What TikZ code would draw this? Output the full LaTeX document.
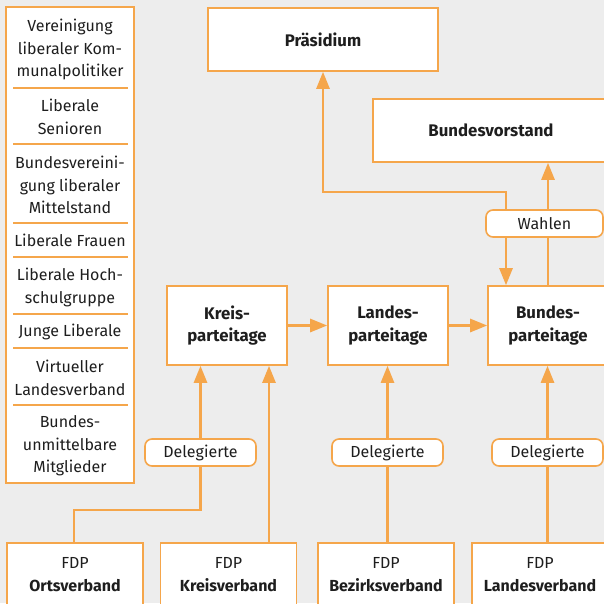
\documentclass[tikz,border=0pt]{standalone}
\usepackage{fontspec}
\setmainfont{Fira Sans}
\usetikzlibrary{arrows.meta,calc,positioning}
\definecolor{fdporange}{RGB}{245,166,75}
\definecolor{fdpgrey}{RGB}{237,237,237}
\definecolor{fdptext}{RGB}{30,30,30}

\begin{document}
\begin{tikzpicture}[x=1pt,y=-1pt,
       box/.style={draw=fdporange,fill=white,line width=1.6pt,text=fdptext,align=center,
                   inner sep=0pt,font=\fontsize{16}{23}\selectfont},
       organ/.style={box,font=\fontsize{16.8}{22.5}\selectfont\bfseries},
       pill/.style={box,rounded corners=7pt,minimum width=111pt,minimum height=27pt},
       item/.style={text=fdptext,align=center,inner sep=0pt,font=\fontsize{16}{22.5}\selectfont},
       divider/.style={draw=fdporange,line width=1.6pt},
       link/.style={draw=fdporange,line width=2.6pt},
       tip/.style={link,-{Triangle[length=17pt,width=13pt]}},
       twotip/.style={link,{Triangle[length=17pt,width=13pt]}-{Triangle[length=17pt,width=13pt]}}]
       \path[fill=fdpgrey,use as bounding box] (0,0) rectangle (604,603);
       \clip (0,0) rectangle (604,603);

       \draw[divider,fill=white] (6,7) rectangle (134,483);
       \node[item] (verein)   at (70,49.5) {Vereinigung\\liberaler Kom-\\munalpolitiker};
       \node[item] (senioren) at (70,117)  {Liberale\\Senioren};
       \node[item] (mittel)   at (70,185)  {Bundesvereini-\\gung liberaler\\Mittelstand};
       \node[item] (frauen)   at (70,240)  {Liberale Frauen};
       \node[item] (hochsch)  at (70,287.5){Liberale Hoch-\\schulgruppe};
       \node[item] (jungl)    at (70,331.5){Junge Liberale};
       \node[item] (virtuell) at (70,378)  {Virtueller\\Landesverband};
       \node[item] (bundesum) at (70,446)  {Bundes-\\unmittelbare\\Mitglieder};
       \draw[divider] (13,88) -- (128,88);
       \draw[divider] (13,144) -- (128,144);
       \draw[divider] (13,223) -- (128,223);
       \draw[divider] (13,257) -- (128,257);
       \draw[divider] (13,314) -- (128,314);
       \draw[divider] (13,348) -- (128,348);
       \draw[divider] (13,405) -- (128,405);

       \node[organ,minimum width=230pt,minimum height=63pt] (praes) at (323,39.5) {Präsidium};
       \node[organ,minimum width=236pt,minimum height=63pt] (bvorst) at (491,130.5) {Bundesvorstand};

       \node[organ,minimum width=120pt,minimum height=79pt] (kreisPT)  at (227,325.5) {Kreis-\\parteitage};
       \node[organ,minimum width=120pt,minimum height=79pt] (landesPT) at (388,325.5) {Landes-\\parteitage};
       \node[organ,minimum width=120pt,minimum height=79pt] (bundesPT) at (548,325.5) {Bundes-\\parteitage};

       \node[box,minimum width=136pt,minimum height=64pt] (ortsV)   at (75,575)    {FDP\\\textbf{Ortsverband}};
       \node[box,minimum width=136pt,minimum height=64pt] (kreisV)  at (228.5,575) {FDP\\\textbf{Kreisverband}};
       \node[box,minimum width=136pt,minimum height=64pt] (bezirkV) at (386,575)   {FDP\\\textbf{Bezirksverband}};
       \node[box,minimum width=136pt,minimum height=64pt] (landesV) at (540,575)   {FDP\\\textbf{Landesverband}};

       \node[pill] (deleg1) at (200.5,452.5) {Delegierte};
       \node[pill] (deleg2) at (387.5,452.5) {Delegierte};
       \node[pill] (deleg3) at (547.5,452.5) {Delegierte};

       \coordinate (bendO) at (74,510);
       \coordinate (kvx) at (269,0);
       \coordinate (turnR) at (506,192);
       \coordinate (turnL) at (323,192);

       \draw[link] (ortsV.north -| bendO) -- (bendO) -| (deleg1.south);
       \draw[tip] (deleg1.north) -- (deleg1.north |- kreisPT.south);
       \draw[tip] (kreisV.north -| kvx) -- (kreisPT.south -| kvx);
       \draw[link] (bezirkV.north -| deleg2.south) -- (deleg2.south);
       \draw[tip] (deleg2.north) -- (deleg2.north |- landesPT.south);
       \draw[link] (landesV.north -| deleg3.south) -- (deleg3.south);
       \draw[tip] (deleg3.north) -- (deleg3.north |- bundesPT.south);

       \draw[tip] (kreisPT.east) -- (landesPT.west);
       \draw[tip] (landesPT.east) -- (bundesPT.west);

       \draw[twotip] (turnR |- bundesPT.north) -- (turnR) -- (turnL) -- (praes.south);
       \draw[tip] (bundesPT.north) -- (bundesPT.north |- bvorst.south);
       \node[pill,minimum width=117pt] (wahlen) at (544.5,223.5) {Wahlen};
\end{tikzpicture}
\end{document}
